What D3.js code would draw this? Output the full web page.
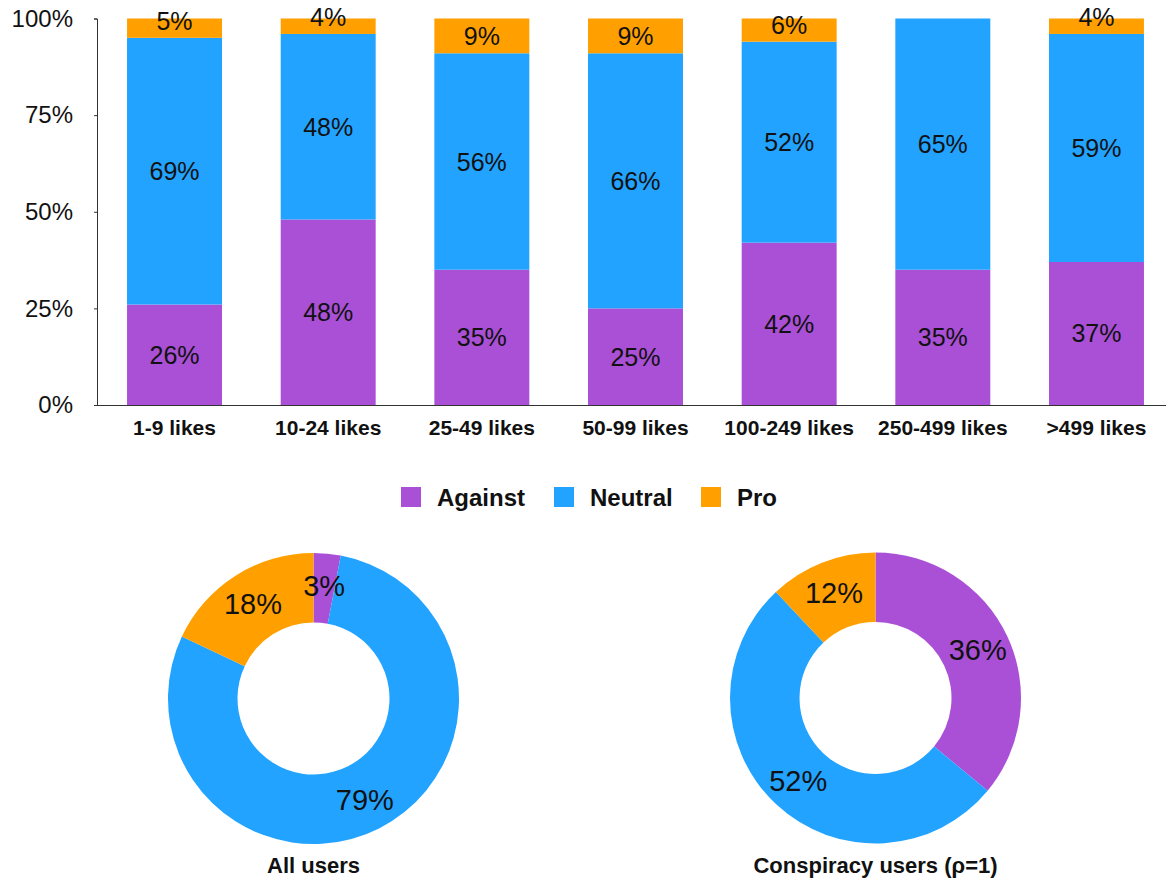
<!DOCTYPE html>
<html>
<head>
<meta charset="utf-8">
<script src="https://cdn.jsdelivr.net/npm/d3@7"></script>
<style>
  body { margin: 0; background: #fff; }
  text { font-family: "Liberation Sans", Arial, Helvetica, sans-serif; }
</style>
</head>
<body>
<div id="chart"></div>
<script>
var width = 1169,
    height = 882;

// ******* data ******* //
var categories = ["1-9 likes", "10-24 likes", "25-49 likes", "50-99 likes", "100-249 likes", "250-499 likes", ">499 likes"];
var series = ["Against", "Neutral", "Pro"];
var against = [26, 48, 35, 25, 42, 35, 37];
var neutral = [69, 48, 56, 66, 52, 65, 59];
var pro     = [5, 4, 9, 9, 6, 0, 4];
var yTicks = [0, 25, 50, 75, 100];

var donutTitles = ["All users", "Conspiracy users (\u03c1=1)"];
var allUsers = [3, 79, 18];
var conspiracyUsers = [36, 52, 12];

var colors = ["#a950d6", "#21a3ff", "#ffa000"];

var svg = d3.select("#chart").append("svg")
    .attr("width", width)
    .attr("height", height);

// ******* stacked bars ******* //
var rows = categories.map(function(c, i) {
    return { cat: c, Against: against[i], Neutral: neutral[i], Pro: pro[i] };
});
var stacked = d3.stack().keys(series)(rows);

var x = d3.scaleBand().domain(categories)
    .range([97.7, 1173.3])
    .paddingInner(0.382)
    .paddingOuter(0.191);
var y = d3.scaleLinear().domain([0, 100]).range([405, 18.5]);
var color = d3.scaleOrdinal().domain(series).range(colors);

var layers = svg.append("g").selectAll("g")
    .data(stacked)
    .enter().append("g")
    .attr("fill", function(d) { return color(d.key); });

layers.selectAll("rect")
    .data(function(d) { return d; })
    .enter().append("rect")
    .attr("x", function(d) { return x(d.data.cat); })
    .attr("width", x.bandwidth())
    .attr("y", function(d) { return y(d[1]); })
    .attr("height", function(d) { return y(d[0]) - y(d[1]); });

layers.selectAll("text")
    .data(function(d) { return d.filter(function(v) { return v[1] - v[0] > 0; }); })
    .enter().append("text")
    .attr("x", function(d) { return x(d.data.cat) + x.bandwidth() / 2; })
    .attr("y", function(d) {
        var mid = (y(d[0]) + y(d[1])) / 2;
        return Math.min(mid, y(d[0]) - 17);
    })
    .attr("dy", "0.36em")
    .attr("text-anchor", "middle")
    .attr("font-size", 25)
    .attr("fill", "#111")
    .text(function(d) { return (d[1] - d[0]) + "%"; });

// y axis
var yAxis = svg.append("g")
    .attr("transform", "translate(97,0)")
    .call(d3.axisLeft(y).tickValues(yTicks).tickSize(3).tickPadding(21)
        .tickFormat(function(d) { return d + "%"; }));
yAxis.selectAll("path, line").attr("stroke", "#333");
yAxis.selectAll("text").attr("font-size", 24).attr("fill", "#111");

// x axis
var xAxis = svg.append("g")
    .attr("transform", "translate(0,405)")
    .call(d3.axisBottom(x).tickSize(0).tickPadding(15));
xAxis.select(".domain").attr("d", "M97,0.5H1166").attr("stroke", "#333");
xAxis.selectAll("text")
    .attr("font-size", 21)
    .attr("font-weight", "bold")
    .attr("fill", "#111");

// ******* legend ******* //
var legendX = [401, 554, 701];
var legend = svg.append("g").selectAll("g")
    .data(series)
    .enter().append("g")
    .attr("transform", function(d, i) { return "translate(" + legendX[i] + ",487)"; });
legend.append("rect")
    .attr("width", 20).attr("height", 20)
    .attr("fill", function(d) { return color(d); });
legend.append("text")
    .attr("x", 36).attr("y", 10).attr("dy", "0.36em")
    .attr("font-size", 24).attr("font-weight", "bold").attr("fill", "#111")
    .text(function(d) { return d; });

// ******* donuts ******* //
var pie = d3.pie().sort(null).value(function(d) { return d; });
var arc = d3.arc().innerRadius(76).outerRadius(145.5);
var labelArc = d3.arc().innerRadius(113).outerRadius(113);

function drawDonut(values, title, cx, cy) {
    var g = svg.append("g").attr("transform", "translate(" + cx + "," + cy + ")");
    var arcs = pie(values);
    g.selectAll("path")
        .data(arcs)
        .enter().append("path")
        .attr("d", arc)
        .attr("fill", function(d, i) { return colors[i]; });
    g.selectAll("text.lbl")
        .data(arcs)
        .enter().append("text")
        .attr("class", "lbl")
        .attr("transform", function(d) { return "translate(" + labelArc.centroid(d) + ")"; })
        .attr("dy", "0.36em")
        .attr("text-anchor", "middle")
        .attr("font-size", 29)
        .attr("fill", "#111")
        .text(function(d) { return d.data + "%"; });
    g.append("text")
        .attr("y", 167)
        .attr("dy", "0.36em")
        .attr("text-anchor", "middle")
        .attr("font-size", 22)
        .attr("font-weight", "bold")
        .attr("fill", "#111")
        .text(title);
}

drawDonut(allUsers, donutTitles[0], 313.5, 698.5);
drawDonut(conspiracyUsers, donutTitles[1], 875.5, 698);
</script>
</body>
</html>
